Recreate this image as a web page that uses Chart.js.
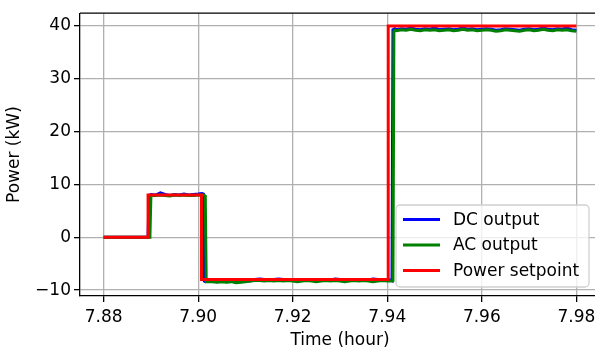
<!DOCTYPE html>
<html><head><meta charset="utf-8">
<script src="https://cdn.jsdelivr.net/npm/chart.js@4"></script>
<style>html,body{margin:0;padding:0;overflow:hidden;background:#fff}#wrap{width:610px;height:349px;position:relative}</style>
</head><body><div id="wrap"><canvas id="c" width="610" height="349"></canvas></div>
<script>
const xTicks = [7.88, 7.90, 7.92, 7.94, 7.96, 7.98];
const yTicks = [-10, 0, 10, 20, 30, 40];
const seriesNames = ['DC output', 'AC output', 'Power setpoint'];

const timeOut = [
  7.8800, 7.8850, 7.8894, 7.8896, 7.8898, 7.8900,
  7.8910, 7.8920, 7.8930, 7.8940, 7.8950, 7.8960, 7.8970, 7.8980, 7.8990, 7.9000,
  7.9008, 7.9011, 7.9013, 7.9015, 7.9017,
  7.9030, 7.9040, 7.9050, 7.9060, 7.9070, 7.9080, 7.9090, 7.9100, 7.9110, 7.9120,
  7.9130, 7.9140, 7.9150, 7.9160, 7.9170, 7.9180, 7.9190, 7.9200, 7.9210, 7.9220,
  7.9230, 7.9240, 7.9250, 7.9260, 7.9270, 7.9280, 7.9290, 7.9300, 7.9310, 7.9320,
  7.9330, 7.9340, 7.9350, 7.9360, 7.9370, 7.9380, 7.9390, 7.9400,
  7.9408, 7.9410, 7.9412, 7.9414, 7.9416,
  7.9420, 7.9430, 7.9440, 7.9450, 7.9460, 7.9470, 7.9480, 7.9490, 7.9500, 7.9510,
  7.9520, 7.9530, 7.9540, 7.9550, 7.9560, 7.9570, 7.9580, 7.9590, 7.9600, 7.9610,
  7.9620, 7.9630, 7.9640, 7.9650, 7.9660, 7.9670, 7.9680, 7.9690, 7.9700, 7.9710,
  7.9720, 7.9730, 7.9740, 7.9750, 7.9760, 7.9770, 7.9780, 7.9790, 7.9800
];
const dcOutput = [
  0, 0, 0, 7.9, 8.0, 8.1,
  8.0, 8.4, 8.1, 7.9, 8.1, 8.0, 8.2, 8.0, 8.1, 8.2,
  8.3, 8.2, -8.3, -8.4, -8.3,
  -8.3, -8.4, -8.3, -8.4, -8.3, -8.5, -8.4, -8.3, -8.3, -8.0,
  -7.9, -8.0, -8.1, -8.0, -7.9, -8.0, -8.1, -8.0, -8.1, -8.2,
  -8.1, -8.2, -8.1, -8.0, -8.2, -8.1, -7.9, -8.0, -8.1, -8.0,
  -8.1, -8.2, -8.0, -8.1, -7.9, -8.0, -8.2, -8.1,
  -8.1, -8.2, 39.3, 39.4, 39.5,
  39.3, 39.5, 39.4, 39.6, 39.4, 39.3, 39.5, 39.4, 39.6, 39.3,
  39.4, 39.5, 39.3, 39.4, 39.6, 39.4, 39.5, 39.3, 39.4, 39.5,
  39.4, 39.2, 39.3, 39.5, 39.4, 39.3, 39.2, 39.4, 39.5, 39.3,
  39.4, 39.6, 39.4, 39.3, 39.5, 39.4, 39.6, 39.3, 39.2
];
const acOutput = [
  0, 0, 0, 0, 0.3, 7.9,
  7.9, 8.0, 7.9, 7.8, 8.0, 7.9, 8.0, 7.9, 7.9, 8.0,
  8.0, 8.0, 7.9, 7.8, -8.4,
  -8.4, -8.5, -8.4, -8.5, -8.4, -8.6, -8.5, -8.4, -8.3, -8.2,
  -8.2, -8.3, -8.2, -8.3, -8.2, -8.3, -8.2, -8.3, -8.4, -8.3,
  -8.2, -8.3, -8.4, -8.3, -8.2, -8.3, -8.2, -8.3, -8.4, -8.3,
  -8.2, -8.3, -8.2, -8.3, -8.4, -8.3, -8.2, -8.3,
  -8.3, -8.3, -8.2, 39.0, 39.2,
  39.1, 39.3, 39.2, 39.4, 39.2, 39.1, 39.3, 39.2, 39.3, 39.1,
  39.2, 39.3, 39.1, 39.2, 39.4, 39.2, 39.3, 39.1, 39.2, 39.3,
  39.2, 39.0, 39.1, 39.3, 39.2, 39.1, 39.0, 39.2, 39.3, 39.1,
  39.2, 39.4, 39.2, 39.1, 39.3, 39.2, 39.3, 39.1, 39.0
];
const timeSet = [7.8800, 7.8894, 7.8894, 7.9007, 7.9007, 7.9402, 7.9402, 7.9800];
const setpoint = [0, 0, 8, 8, -8, -8, 40, 40];

const FONT = {family: 'DejaVu Sans', size: 17};
const toXY = (xs, ys) => xs.map((x, i) => ({x: x, y: ys[i]}));

const frame = {
  id: 'frame',
  afterDraw(chart) {
    const {ctx, chartArea: a} = chart;
    ctx.save();
    ctx.strokeStyle = '#000';
    ctx.lineWidth = 1.3;
    ctx.beginPath();
    ctx.moveTo(a.left, a.top);
    ctx.lineTo(a.right, a.top);
    ctx.lineTo(a.right, a.bottom);
    ctx.stroke();
    // legend
    const bx = a.right - 204, by = a.bottom - 91, bw = 193, bh = 82, r = 4;
    ctx.fillStyle = 'rgba(255,255,255,0.8)';
    ctx.strokeStyle = '#d0d0d0';
    ctx.lineWidth = 1.3;
    ctx.beginPath();
    ctx.roundRect(bx, by, bw, bh, r);
    ctx.fill();
    ctx.stroke();
    ctx.font = '17px "DejaVu Sans"';
    ctx.textBaseline = 'middle';
    ctx.textAlign = 'left';
    chart.data.datasets.forEach((ds, i) => {
      const yy = by + 14.5 + i * 25.5;
      ctx.strokeStyle = ds.borderColor;
      ctx.lineWidth = 3;
      ctx.beginPath();
      ctx.moveTo(bx + 7, yy);
      ctx.lineTo(bx + 44, yy);
      ctx.stroke();
      ctx.fillStyle = '#000';
      ctx.fillText(ds.label, bx + 57, yy + 1);
    });
    ctx.restore();
  }
};

new Chart(document.getElementById('c'), {
  type: 'line',
  data: {
    datasets: [
      {label: seriesNames[0], data: toXY(timeOut, dcOutput), borderColor: '#0000ff', borderWidth: 3, pointRadius: 0, order: 3},
      {label: seriesNames[1], data: toXY(timeOut, acOutput), borderColor: '#008000', borderWidth: 3, pointRadius: 0, order: 2},
      {label: seriesNames[2], data: toXY(timeSet, setpoint), borderColor: '#ff0000', borderWidth: 3, pointRadius: 0, order: 1}
    ]
  },
  options: {
    responsive: false,
    animation: false,
    events: [],
    layout: {padding: {top: 9, right: 10, left: 0, bottom: 0}},
    elements: {line: {tension: 0, borderCapStyle: 'butt', borderJoinStyle: 'miter'}},
    plugins: {legend: {display: false}, tooltip: {enabled: false}},
    scales: {
      x: {
        type: 'linear', min: 7.875, max: 7.985,
        afterBuildTicks: s => { s.ticks = xTicks.map(v => ({value: v})); },
        afterFit: s => { s.height = 53; },
        ticks: {callback: v => Number(v).toFixed(2), font: FONT, color: '#000', padding: 5, maxRotation: 0, autoSkip: false},
        grid: {color: '#b0b0b0', lineWidth: 1.3, tickColor: '#000', tickLength: 6, tickWidth: 1.3},
        border: {color: '#000', width: 1.3},
        title: {display: true, text: 'Time (hour)', font: FONT, color: '#000', padding: {top: 0, bottom: -2}}
      },
      y: {
        type: 'linear', min: -11.12, max: 42.43,
        afterBuildTicks: s => { s.ticks = yTicks.map(v => ({value: v})); },
        afterFit: s => { s.width = 80; },
        ticks: {callback: v => (v < 0 ? '\u2212' + Math.abs(v) : String(v)), font: FONT, color: '#000', padding: 3},
        grid: {color: '#b0b0b0', lineWidth: 1.3, tickColor: '#000', tickLength: 6, tickWidth: 1.3},
        border: {color: '#000', width: 1.3},
        title: {display: true, text: 'Power (kW)', font: FONT, color: '#000', padding: {top: 4, bottom: 0}}
      }
    }
  },
  plugins: [frame]
});
</script></body></html>
